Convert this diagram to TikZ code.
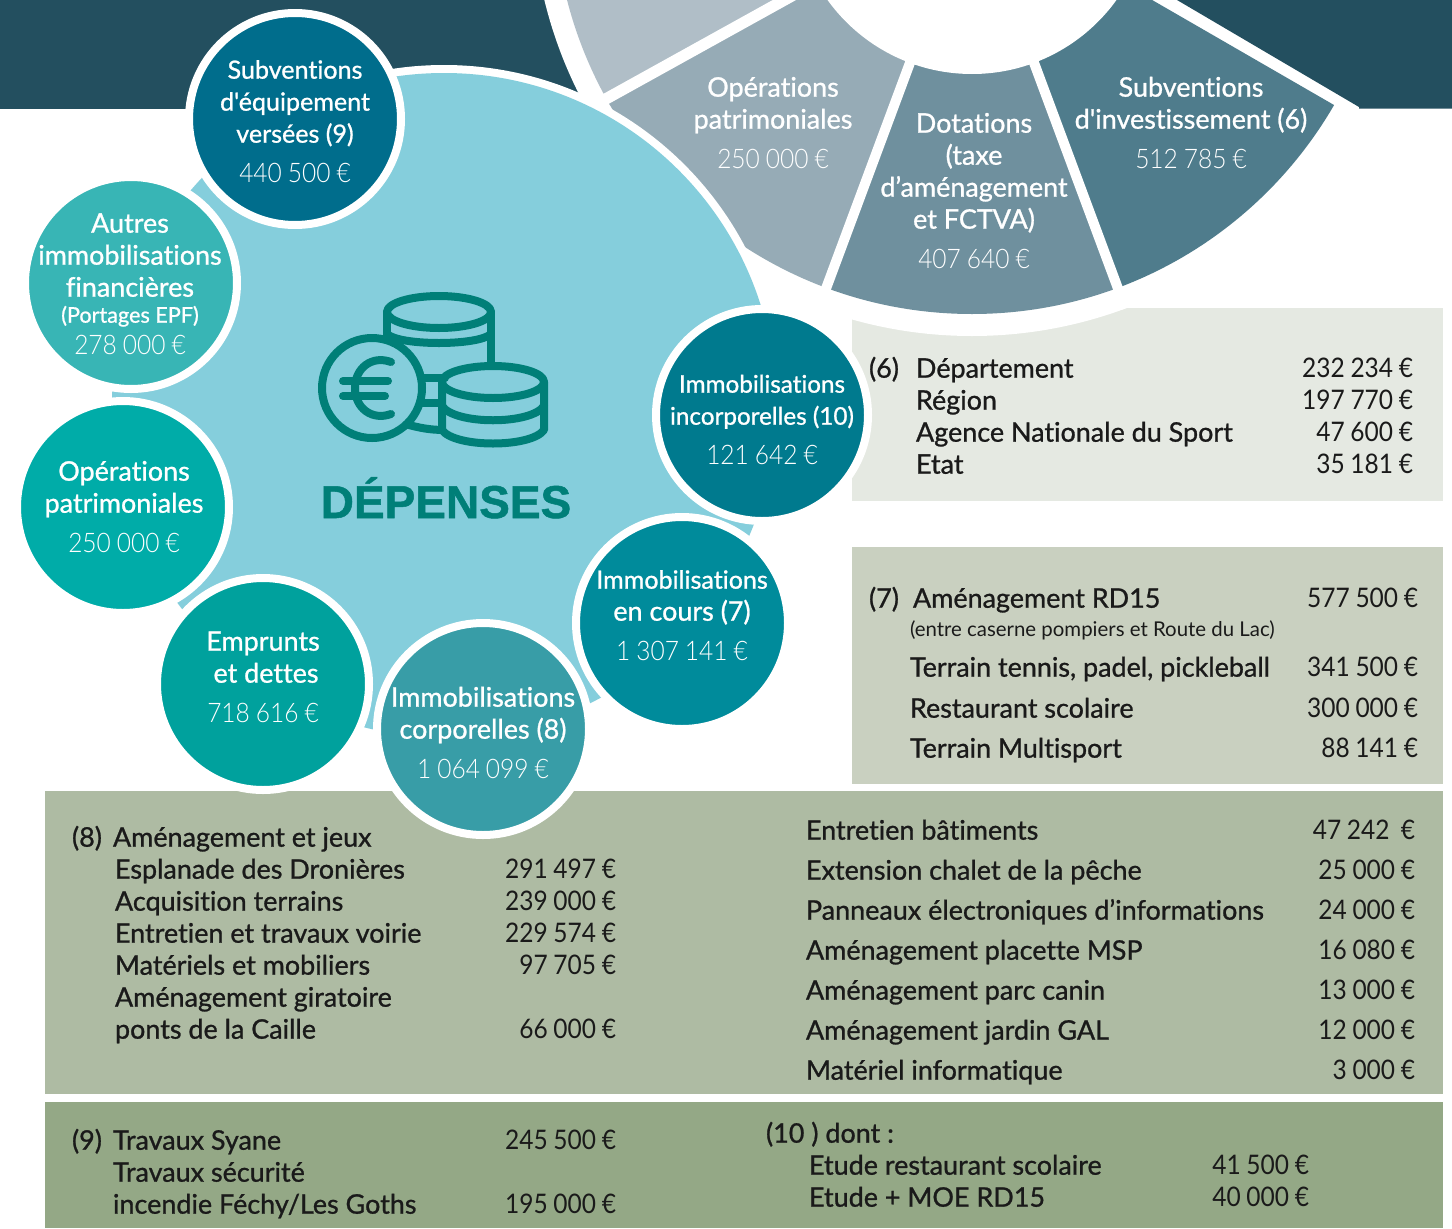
\documentclass[tikz,border=0pt]{standalone}
\usepackage{fontspec}
\setmainfont[Ligatures=NoCommon,FakeStretch=0.91,WordSpace=0.9]{Lato}
\newfontfamily\medf[FakeBold=0.95,Ligatures=NoCommon]{Lato}
\newfontfamily\lightf[FakeStretch=0.91,WordSpace=0.9]{Lato Light}
\newfontfamily\smallf[Ligatures=NoCommon]{Lato}
\newfontfamily\headf[FakeBold=1.1]{Liberation Sans Bold}
\usetikzlibrary{calc}
\definecolor{band}{HTML}{234F5F}
\definecolor{sliceA}{HTML}{B0BEC7}
\definecolor{sliceB}{HTML}{96ABB6}
\definecolor{sliceC}{HTML}{6F909E}
\definecolor{sliceD}{HTML}{4F7C8C}
\definecolor{disc}{HTML}{85CEDC}
\definecolor{teal}{HTML}{007F78}
\definecolor{boxA}{HTML}{E5E9E2}
\definecolor{boxB}{HTML}{C9D0C0}
\definecolor{boxC}{HTML}{AEBBA3}
\definecolor{boxD}{HTML}{94A886}
\definecolor{inkk}{HTML}{1A1A1A}
\newcounter{tc}
\newcommand\tl[4]{\stepcounter{tc}\node[#1] (t\arabic{tc}) at (#2,#3) {#4};}
\newcommand\sector[3]{\fill[#1] (C) -- ($(C)+(#2:1000)$) -- ($(C)+(#3:1000)$) -- cycle;}
\tikzset{
  x=0.75pt,y=-0.75pt,
  base/.style={inner sep=0pt,outer sep=0pt},
  txt/.style={base,yshift=-0.5pt},
  wt/.style={txt,anchor=base,text=white,font=\medf\fontsize{20.2pt}{24pt}\selectfont},
  wtb/.style={txt,anchor=base,text=white,font=\medf\fontsize{18.8pt}{24pt}\selectfont},
  wts/.style={txt,anchor=base,text=white,font=\medf\fontsize{18.2pt}{24pt}\selectfont},
  wp/.style={txt,anchor=base,text=white,font=\lightf\fontsize{20.2pt}{24pt}\selectfont},
  lab/.style={txt,anchor=base west,text=inkk,font=\medf\fontsize{20.2pt}{24pt}\selectfont},
  amt/.style={txt,anchor=base east,text=inkk,font=\fontsize{20.2pt}{24pt}\selectfont},
  bubble/.style={circle,base,minimum size=159pt,draw=white,line width=6pt},
  coin/.style={draw=teal,line width=6pt,line join=round,line cap=round},
}
\begin{document}
\begin{tikzpicture}
\path[use as bounding box] (0,0) rectangle (1452,1228);
\clip (0,0) rectangle (1452,1228);
\coordinate (C) at (972,-104);
\coordinate (B) at (444,405);
% panels
\fill[band] (0,0) rectangle (640,108.5);
\fill[boxA] (852,308) rectangle (1443,500.5);
\fill[boxB] (852,547) rectangle (1443,783.5);
\fill[boxC] (45,791) rectangle (1443,1094);
\fill[boxD] (45,1102) rectangle (1443,1228);
% wheel
\fill[white] (C) circle[radius=440];
\fill[band] (1177,0) -- (1359,107) -- (1359,108.5) -- (1452,108.5) -- (1452,0) -- cycle;
\begin{scope}
  \clip (C) circle[radius=418];
  \sector{sliceA}{150}{185}
  \sector{sliceB}{110}{151}
  \sector{sliceC}{69}{111}
  \sector{sliceD}{30}{70}
\end{scope}
\draw[white,line width=7.5pt] (C) -- ($(C)+(69.6:440)$);
\draw[white,line width=7.5pt] (C) -- ($(C)+(110.4:440)$);
\draw[white,line width=8.5pt] (C) -- ($(C)+(151:440)$);
\fill[white] (C) circle[radius=178];
% big disc
\fill[white] (B) circle[radius=340];
\fill[disc] (B) circle[radius=332];
% icon: back stack
\draw[coin] (387,312) -- (387,345);
\draw[coin] (491,312) -- (491,365);
\draw[coin] (439,312) ellipse[x radius=52,y radius=16];
\draw[coin] (387,334) .. controls (400,346) and (478,346) .. (491,334);
\draw[coin] (420,378) -- (445,378);
\draw[coin] (420,403) -- (445,403);
\draw[coin] (405,424) .. controls (420,428) and (430,430) .. (445,430);
% icon: coin
\fill[disc] (372,388) circle[radius=50];
\draw[coin] (372,388) circle[radius=50];
\draw[coin] (391,362) .. controls (372,355) and (355,368) .. (355,388) .. controls (355,408) and (372,421) .. (391,414);
\draw[coin] (343,381) -- (388,381);
\draw[coin] (343,396) -- (385,396);
% icon: front stack
\fill[disc] (442,382) -- (442,430) .. controls (455,450) and (531,450) .. (544,430) -- (544,382) -- cycle;
\draw[coin] (442,382) -- (442,430) .. controls (455,448) and (531,448) .. (544,430) -- (544,382);
\draw[coin] (493,382) ellipse[x radius=51,y radius=16];
\draw[coin] (442,406) .. controls (455,425) and (531,425) .. (544,406);
\tl{base,anchor=base,text=teal,font=\headf\fontsize{34.5pt}{40pt}\selectfont}{446}{518}{DÉPENSES}
% bubbles
\node[bubble,fill={rgb,255:red,56;green,181;blue,181}] (bAutres) at (131,283) {};
\node[bubble,fill={rgb,255:red,0;green,172;blue,168}] (bOper) at (123,507) {};
\node[bubble,fill={rgb,255:red,0;green,161;blue,157}] (bEmpr) at (263,684) {};
\node[bubble,fill={rgb,255:red,56;green,157;blue,167}] (bCorp) at (483,729) {};
\node[bubble,fill={rgb,255:red,0;green,139;blue,155}] (bCours) at (682,623) {};
\node[bubble,fill={rgb,255:red,0;green,122;blue,142}] (bIncorp) at (762,415) {};
\node[bubble,fill={rgb,255:red,0;green,109;blue,140}] (bSub) at (295,119) {};
% wheel text
\tl{wt}{773}{96}{Opérations}
\tl{wt}{773}{128}{patrimoniales}
\tl{wp}{773}{168}{250 000 €}
\tl{wt}{974}{132}{Dotations}
\tl{wt}{974}{164}{(taxe}
\tl{wt}{974}{196}{d’aménagement}
\tl{wt}{974}{228}{et FCTVA)}
\tl{wp}{974}{268}{407 640 €}
\tl{wt}{1191}{96}{Subventions}
\tl{wt}{1191}{128}{d'investissement (6)}
\tl{wp}{1191}{168}{512 785 €}
% bubble text
\tl{wtb}{295}{78}{Subventions}
\tl{wtb}{295}{110}{d'équipement}
\tl{wtb}{295}{142}{versées (9)}
\tl{wp}{295}{182}{440 500 €}
\tl{wt}{130}{232}{Autres}
\tl{wt}{130}{264}{immobilisations}
\tl{wt}{130}{296}{financières}
\tl{txt,anchor=base,text=white,font=\medf\fontsize{16.2pt}{18pt}\selectfont}{130}{322}{(Portages EPF)}
\tl{wp}{130}{354}{278 000 €}
\tl{wt}{124}{480}{Opérations}
\tl{wt}{124}{512}{patrimoniales}
\tl{wp}{124}{552}{250 000 €}
\tl{wt}{263}{650}{Emprunts}
\tl{wt}{266}{682}{et dettes}
\tl{wp}{263}{722}{718 616 €}
\tl{wt}{483}{706}{Immobilisations}
\tl{wt}{483}{738}{corporelles (8)}
\tl{wp}{483}{778}{1 064 099 €}
\tl{wtb}{682}{588}{Immobilisations}
\tl{wt}{682}{620}{en cours (7)}
\tl{wp}{682}{660}{1 307 141 €}
\tl{wts}{762}{392}{Immobilisations}
\tl{wts}{762}{424}{incorporelles (10)}
\tl{wp}{762}{464}{121 642 €}
% box 6
\tl{lab}{869}{377}{(6)}
\tl{lab}{916}{377}{Département}
\tl{lab}{916}{409}{Région}
\tl{lab}{916}{441}{Agence Nationale du Sport}
\tl{lab}{916}{473}{Etat}
\tl{amt}{1413}{377}{232 234 €}
\tl{amt}{1413}{409}{197 770 €}
\tl{amt}{1413}{441}{47 600 €}
\tl{amt}{1413}{473}{35 181 €}
% box 7
\tl{lab}{869}{607}{(7)}
\tl{lab}{913}{607}{Aménagement RD15}
\tl{txt,anchor=base west,text=inkk,font=\smallf\fontsize{15.3pt}{18pt}\selectfont}{910}{636}{(entre caserne pompiers et Route du Lac)}
\tl{lab}{910}{676}{Terrain tennis, padel, pickleball}
\tl{lab}{910}{717}{Restaurant scolaire}
\tl{lab}{910}{757}{Terrain Multisport}
\tl{amt}{1418}{607}{577 500 €}
\tl{amt}{1418}{676}{341 500 €}
\tl{amt}{1418}{717}{300 000 €}
\tl{amt}{1418}{757}{88 141 €}
% box 8 left
\tl{lab}{72}{846}{(8)}
\tl{lab}{113}{846}{Aménagement et jeux}
\tl{lab}{115}{878}{Esplanade des Dronières}
\tl{lab}{115}{910}{Acquisition terrains}
\tl{lab}{115}{942}{Entretien et travaux voirie}
\tl{lab}{115}{974}{Matériels et mobiliers}
\tl{lab}{115}{1006}{Aménagement giratoire}
\tl{lab}{115}{1038}{ponts de la Caille}
\tl{amt}{616}{878}{291 497 €}
\tl{amt}{616}{910}{239 000 €}
\tl{amt}{616}{942}{229 574 €}
\tl{amt}{616}{974}{97 705 €}
\tl{amt}{616}{1038}{66 000 €}
% box 8 right
\tl{lab}{806}{839}{Entretien bâtiments}
\tl{lab}{806}{879}{Extension chalet de la pêche}
\tl{lab}{806}{919}{Panneaux électroniques d’informations}
\tl{lab}{806}{959}{Aménagement placette MSP}
\tl{lab}{806}{999}{Aménagement parc canin}
\tl{lab}{806}{1039}{Aménagement jardin GAL}
\tl{lab}{806}{1079}{Matériel informatique}
\tl{amt}{1415}{839}{47 242\ \ €}
\tl{amt}{1415}{879}{25 000 €}
\tl{amt}{1415}{919}{24 000 €}
\tl{amt}{1415}{959}{16 080 €}
\tl{amt}{1415}{999}{13 000 €}
\tl{amt}{1415}{1039}{12 000 €}
\tl{amt}{1415}{1079}{3 000 €}
% box 9
\tl{lab}{72}{1149}{(9)}
\tl{lab}{113}{1149}{Travaux Syane}
\tl{lab}{113}{1181}{Travaux sécurité}
\tl{lab}{113}{1213}{incendie Féchy/Les Goths}
\tl{amt}{616}{1149}{245 500 €}
\tl{amt}{616}{1213}{195 000 €}
% box 10
\tl{lab}{766}{1142}{(10 ) dont :}
\tl{lab}{809}{1174}{Etude restaurant scolaire}
\tl{lab}{809}{1206}{Etude + MOE RD15}
\tl{amt}{1309}{1174}{41 500 €}
\tl{amt}{1309}{1206}{40 000 €}
\end{tikzpicture}
\end{document}
